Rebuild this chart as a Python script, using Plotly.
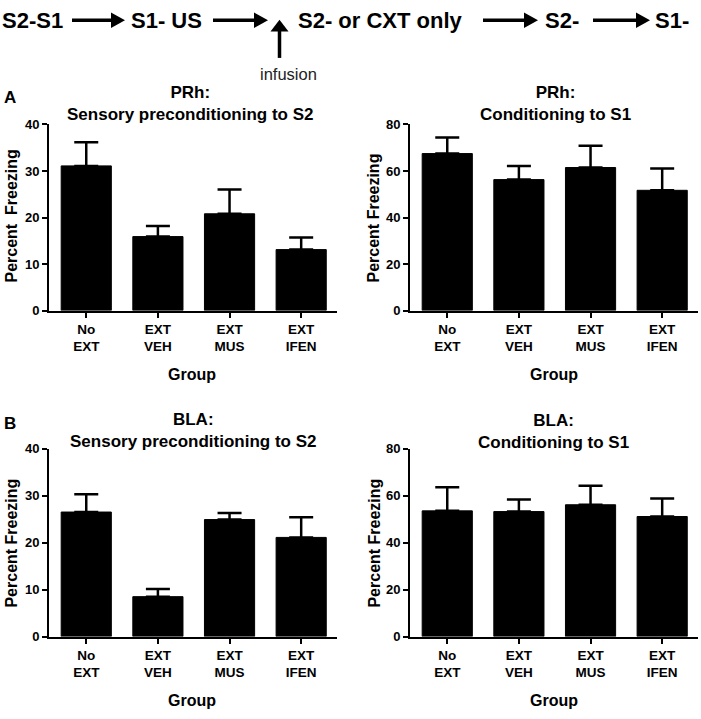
import plotly.graph_objects as go

W, H = 701, 719

# ---------------- data ----------------
groups = ["No<br>EXT", "EXT<br>VEH", "EXT<br>MUS", "EXT<br>IFEN"]
group_pos = [0, 1, 2, 3]

prh_s2_mean = [31.1, 15.9, 20.8, 13.1]
prh_s2_sem = [5.1, 2.3, 5.2, 2.6]
prh_s1_mean = [67.5, 56.3, 61.5, 51.7]
prh_s1_sem = [6.9, 5.9, 9.4, 9.4]
bla_s2_mean = [26.5, 8.5, 24.9, 21.1]
bla_s2_sem = [3.8, 1.6, 1.4, 4.3]
bla_s1_mean = [53.5, 53.2, 56.1, 51.1]
bla_s1_sem = [10.0, 5.1, 8.1, 7.7]

s2_ticks = [0, 10, 20, 30, 40]
s1_ticks = [0, 20, 40, 60, 80]

FONT = "Arial, 'Liberation Sans', sans-serif"


def fx(px):
    return px / W


def fy(py):
    return 1 - py / H


# panel: mean, sem, ticks, x-domain px, y-domain px (top, bottom)
panels = [
    (prh_s2_mean, prh_s2_sem, s2_ticks, (49, 337), (120, 310)),
    (prh_s1_mean, prh_s1_sem, s1_ticks, (410, 698), (120, 310)),
    (bla_s2_mean, bla_s2_sem, s2_ticks, (49, 337), (451, 643)),
    (bla_s1_mean, bla_s1_sem, s1_ticks, (410, 698), (451, 643)),
]

fig = go.Figure()
layout_axes = {}
for i, (mean, sem, ticks, xd, yd) in enumerate(panels, start=1):
    sfx = "" if i == 1 else str(i)
    fig.add_trace(go.Bar(
        x=group_pos, y=mean, width=0.7,
        marker=dict(color="black", line=dict(color="black", width=1)),
        error_y=dict(type="data", array=sem, arrayminus=[0] * len(sem),
                     symmetric=False, color="black", thickness=2.5, width=12),
        xaxis="x" + sfx, yaxis="y" + sfx, showlegend=False,
    ))
    layout_axes["xaxis" + sfx] = dict(
        domain=[fx(xd[0]), fx(xd[1])], anchor="y" + sfx,
        range=[-0.52, 3.5], tickmode="array", tickvals=group_pos, ticktext=groups,
        showline=True, linecolor="black", linewidth=2, ticks="outside",
        ticklen=5, tickwidth=2, tickcolor="black", showgrid=False, zeroline=False,
        tickfont=dict(family=FONT, size=13.5, color="black", weight="bold"),
    )
    layout_axes["yaxis" + sfx] = dict(
        domain=[fy(yd[1]), fy(yd[0])], anchor="x" + sfx,
        range=[ticks[0], ticks[-1]], tickmode="array", tickvals=ticks,
        showline=True, linecolor="black", linewidth=2, ticks="outside",
        ticklen=5, tickwidth=2, tickcolor="black", showgrid=False, zeroline=False,
        tickfont=dict(family=FONT, size=13, color="black", weight="bold"),
    )

annotations = []


def txt(text, x, y, size, bold=True, angle=0, color="black"):
    annotations.append(dict(
        text=text, x=fx(x), y=fy(y), xref="paper", yref="paper",
        xanchor="center", yanchor="middle", showarrow=False, textangle=angle,
        font=dict(family=FONT, size=size, color=color,
                  weight="bold" if bold else "normal"),
    ))


# panel titles
txt("PRh:<br>Sensory preconditioning to S2", 190, 99, 17)
txt("PRh:<br>Conditioning to S1", 555, 99, 17)
txt("BLA:<br>Sensory preconditioning to S2", 193.5, 433, 17)
txt("BLA:<br>Conditioning to S1", 553, 434, 17)

# panel letters
txt("A", 10, 92.5, 17)
txt("B", 9.5, 425, 17)

# axis titles
txt("Percent\u00a0 Freezing", 12, 214, 16, angle=-90)
txt("Percent Freezing", 374, 215, 16, angle=-90)
txt("Percent Freezing", 12, 548, 16, angle=-90)
txt("Percent Freezing", 375, 548, 16, angle=-90)
txt("Group", 191.5, 375, 16)
txt("Group", 554, 375, 16)
txt("Group", 192, 708, 16)
txt("Group", 554, 708, 16)

# top protocol diagram
txt("S2-S1", 32.5, 14, 22)
txt("S1- US", 166, 14, 22)
txt("S2- or CXT only", 380, 14, 22)
txt("S2-", 561.5, 14, 22)
txt("S1-", 671.5, 14, 22)
txt("infusion", 288, 68, 16.5, bold=False, color="#222222")

shapes = []


def harrow(x0, x1, y, head=14, half=8, lw=3.5):
    shapes.append(dict(type="line", xref="paper", yref="paper",
                       x0=fx(x0), x1=fx(x1 - head + 1), y0=fy(y), y1=fy(y),
                       line=dict(color="black", width=lw)))
    shapes.append(dict(type="path", xref="paper", yref="paper",
                       path=f"M {fx(x1 - head)},{fy(y - half)} L {fx(x1)},{fy(y)} "
                            f"L {fx(x1 - head)},{fy(y + half)} Z",
                       fillcolor="black", line=dict(color="black", width=0)))


def varrow(x, y0, y1, head=12, half=9, lw=3.5):
    shapes.append(dict(type="line", xref="paper", yref="paper",
                       x0=fx(x), x1=fx(x), y0=fy(y0), y1=fy(y1 + head - 1),
                       line=dict(color="black", width=lw)))
    shapes.append(dict(type="path", xref="paper", yref="paper",
                       path=f"M {fx(x - half)},{fy(y1 + head)} L {fx(x)},{fy(y1)} "
                            f"L {fx(x + half)},{fy(y1 + head)} Z",
                       fillcolor="black", line=dict(color="black", width=0)))


harrow(72, 125, 13.5)
harrow(213, 268, 13.5)
harrow(483, 538, 13.5)
harrow(593, 650, 13.5)
varrow(279.5, 52, 13)

fig.update_layout(
    width=W, height=H, margin=dict(l=0, r=0, t=0, b=0),
    paper_bgcolor="white", plot_bgcolor="white",
    font=dict(family=FONT, color="black"),
    annotations=annotations, shapes=shapes, bargap=0.3,
    **layout_axes,
)

fig.write_html(
    "out.html",
    config={"displayModeBar": False},
    post_script="document.body.style.margin='0px';document.body.style.padding='0px';"
                "document.body.style.overflow='hidden';",
)
